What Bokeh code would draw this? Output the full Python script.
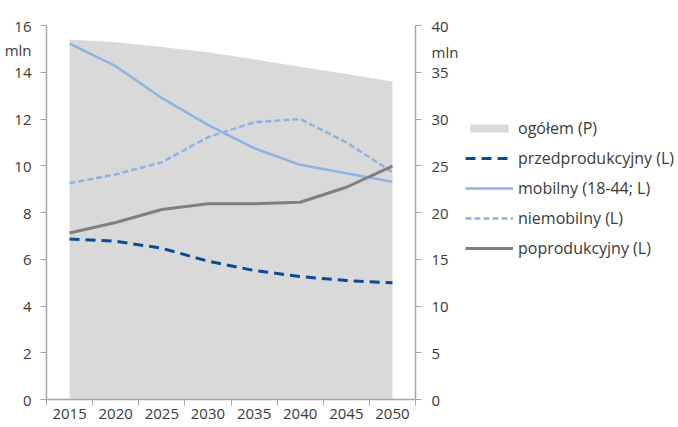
from bokeh.plotting import figure
from bokeh.models import Range1d, LinearAxis, FixedTicker, Legend, LegendItem
from bokeh.layouts import row
from bokeh.embed import file_html
from bokeh.resources import INLINE

years = [2015, 2020, 2025, 2030, 2035, 2040, 2045, 2050]
ogolem = [38.5, 38.2, 37.7, 37.15, 36.4, 35.6, 34.8, 34.0]
przedprodukcyjny = [6.87, 6.77, 6.47, 5.92, 5.52, 5.26, 5.09, 4.99]
mobilny = [15.22, 14.26, 12.9, 11.75, 10.75, 10.04, 9.68, 9.31]
niemobilny = [9.25, 9.63, 10.15, 11.22, 11.86, 12.0, 11.0, 9.72]
poprodukcyjny = [7.12, 7.57, 8.13, 8.37, 8.37, 8.44, 9.08, 9.98]
names = ["ogółem (P)", "przedprodukcyjny (L)", "mobilny (18-44; L)", "niemobilny (L)", "poprodukcyjny (L)"]
left_ticks = [0, 2, 4, 6, 8, 10, 12, 14, 16]
right_ticks = [0, 5, 10, 15, 20, 25, 30, 35, 40]
unit = "mln"
left_unit_pos = 14.95
right_unit_pos = 37.2

FONT = "Open Sans"
TXT = "#3a3a3a"
AX = "#a6a6a6"
C_AREA = "#d9d9d9"
C_DARK = "#0b4a96"
C_LIGHT = "#8cb3e6"
C_GREY = "#808080"

styles = [
    dict(line_color=C_DARK, line_width=3, line_dash="10 6"),
    dict(line_color=C_LIGHT, line_width=2.5),
    dict(line_color=C_LIGHT, line_width=2.5, line_dash="6 3"),
    dict(line_color=C_GREY, line_width=3),
]
series = [przedprodukcyjny, mobilny, niemobilny, poprodukcyjny]

p = figure(width=463, height=427, x_range=Range1d(2012.5, 2052.5), y_range=Range1d(0, 16),
           output_backend="svg", toolbar_location=None,
           min_border_left=46, min_border_right=48, min_border_top=25, min_border_bottom=28)
p.extra_y_ranges = {"right": Range1d(0, 40)}
p.outline_line_color = None
p.grid.visible = False
p.background_fill_color = "white"
p.border_fill_color = "white"

p.varea(x=years, y1=0, y2=ogolem, y_range_name="right", fill_color=C_AREA)
for s, st in zip(series, styles):
    p.line(years, s, **st)

def style(ax):
    ax.axis_line_color = AX
    ax.axis_line_width = 1.5
    ax.major_tick_line_color = AX
    ax.minor_tick_line_color = AX
    ax.major_label_text_font = FONT
    ax.major_label_text_font_size = "15px"
    ax.major_label_text_color = TXT

xa = p.xaxis[0]
style(xa)
minor = [y - 2.5 for y in years] + [years[-1] + 2.5]
xa.ticker = FixedTicker(ticks=years, minor_ticks=minor)
xa.major_tick_out = 0
xa.major_tick_in = 0
xa.minor_tick_out = 6
xa.minor_tick_in = 0
xa.major_label_standoff = 3
xa.major_label_overrides = {y: str(y) for y in years}

def value_axis(ax, ticks, unit_pos, standoff):
    style(ax)
    ax.ticker = FixedTicker(ticks=ticks + [unit_pos], minor_ticks=ticks)
    ax.major_tick_out = 0
    ax.major_tick_in = 0
    ax.minor_tick_out = 6
    ax.minor_tick_in = 0
    ax.major_label_standoff = standoff
    ax.major_label_overrides = {unit_pos: unit}

value_axis(p.yaxis[0], left_ticks, left_unit_pos, 9)
ra = LinearAxis(y_range_name="right")
value_axis(ra, right_ticks, right_unit_pos, 10)
p.add_layout(ra, "right")

# legend panel: same series drawn outside its visible range, only the legend shows
q = figure(width=215, height=427, x_range=Range1d(0, 1), y_range=Range1d(0, 1),
           output_backend="svg", toolbar_location=None, x_axis_type=None, y_axis_type=None,
           min_border=0)
q.outline_line_color = None
q.grid.visible = False
q.background_fill_color = "white"
q.border_fill_color = "white"
items = [LegendItem(label=names[0], renderers=[q.varea(x=years, y1=0, y2=ogolem, fill_color=C_AREA)])]
for nm, s, st in zip(names[1:], series, styles):
    items.append(LegendItem(label=nm, renderers=[q.line(years, s, **st)]))
legend = Legend(items=items, location=(2, 140), orientation="vertical",
                glyph_width=48, glyph_height=10, label_height=20, label_standoff=5,
                spacing=8, padding=0, margin=0,
                border_line_color=None, background_fill_alpha=0,
                label_text_font=FONT, label_text_font_size="16px", label_text_color=TXT)
q.add_layout(legend, "center")

layout = row(p, q, spacing=0)
open("out.html", "w").write(file_html(layout, INLINE))
